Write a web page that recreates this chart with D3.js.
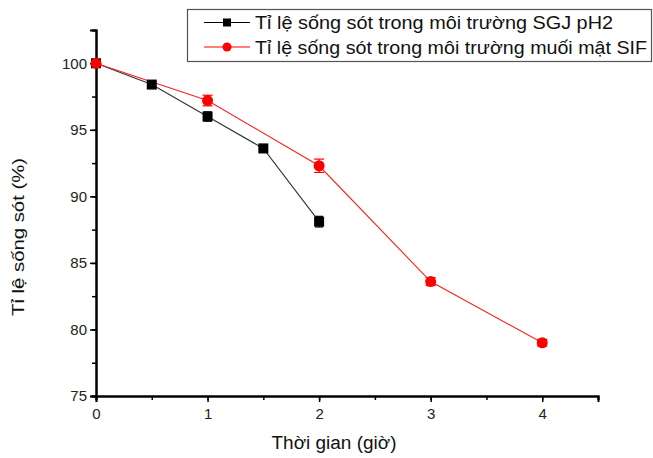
<!DOCTYPE html>
<html>
<head>
<meta charset="utf-8">
<script src="https://cdn.jsdelivr.net/npm/d3@7"></script>
<style>
  body { margin: 0; background: #fff; }
  text { font-family: "Liberation Sans", Arial, sans-serif; }
</style>
</head>
<body>
<div id="chart-area"></div>
<script>
// data
const hoursSGJ = [0, 0.5, 1, 1.5, 2];
const survivalSGJ = [100, 98.4, 96.0, 93.6, 88.1];
const errorSGJ = [0.2, 0.2, 0.35, 0.3, 0.4];

const hoursSIF = [0, 1, 2, 3, 4];
const survivalSIF = [100, 97.2, 92.3, 83.6, 79.0];
const errorSIF = [0.2, 0.4, 0.5, 0.3, 0.25];

const seriesNames = [
  "Tỉ lệ sống sót trong môi trường SGJ pH2",
  "Tỉ lệ sống sót trong môi trường muối mật SIF"
];
const xTicks = [0, 1, 2, 3, 4];
const yTicks = [75, 80, 85, 90, 95, 100];

const W = 653, H = 458;
const margin = { left: 96, right: 55, top: 30, bottom: 62 };
const width = W - margin.left - margin.right;
const height = H - margin.top - margin.bottom;

const svg = d3.select("#chart-area")
  .append("svg")
  .attr("width", W)
  .attr("height", H);

const g = svg.append("g")
  .attr("transform", `translate(${margin.left}, ${margin.top})`);

const x = d3.scaleLinear().domain([0, 4.5]).range([0, width]);
const y = d3.scaleLinear().domain([75, 102.5]).range([height, 0]);

// minor ticks
const xAxisMinor = g.append("g")
  .attr("transform", `translate(0, ${height})`)
  .call(d3.axisBottom(x).tickValues(d3.range(0, 4.51, 0.5)).tickSize(4).tickFormat(""));
const yAxisMinor = g.append("g")
  .call(d3.axisLeft(y).tickValues(d3.range(75, 102.6, 2.5)).tickSize(4).tickFormat(""));

// major axes
const xAxisGroup = g.append("g")
  .attr("transform", `translate(0, ${height})`)
  .call(d3.axisBottom(x).tickValues(xTicks).tickSize(6).tickPadding(6).tickFormat(d3.format("d")));
const yAxisGroup = g.append("g")
  .call(d3.axisLeft(y).tickValues(yTicks).tickSize(6).tickPadding(3));

[xAxisMinor, yAxisMinor, xAxisGroup, yAxisGroup].forEach(a => {
  a.select(".domain").attr("stroke", "#000").attr("stroke-width", 2);
  a.selectAll(".tick line").attr("stroke", "#000").attr("stroke-width", 1.5);
});
[xAxisGroup, yAxisGroup].forEach(a => {
  a.selectAll(".tick text")
    .attr("font-size", "15px")
    .attr("fill", "#222")
    .attr("font-family", "'Liberation Sans', Arial, sans-serif");
});

// axis titles
svg.append("text")
  .attr("x", 334)
  .attr("y", 449)
  .attr("text-anchor", "middle")
  .attr("font-size", "18px")
  .attr("fill", "#111")
  .attr("textLength", 125)
  .attr("lengthAdjust", "spacingAndGlyphs")
  .text("Thời gian (giờ)");

svg.append("text")
  .attr("transform", "rotate(-90)")
  .attr("x", -237)
  .attr("y", 24)
  .attr("text-anchor", "middle")
  .attr("font-size", "16px")
  .attr("fill", "#111")
  .attr("textLength", 158)
  .attr("lengthAdjust", "spacingAndGlyphs")
  .text("Tỉ lệ sống sót (%)");

// series
const sgj = hoursSGJ.map((h, i) => ({ x: h, y: survivalSGJ[i], e: errorSGJ[i] }));
const sif = hoursSIF.map((h, i) => ({ x: h, y: survivalSIF[i], e: errorSIF[i] }));

const line = d3.line().x(d => x(d.x)).y(d => y(d.y));

function drawErrors(data, color, cap) {
  const eg = g.append("g").attr("stroke", color).attr("stroke-width", 1.2);
  eg.selectAll(".v").data(data).enter().append("line")
    .attr("x1", d => x(d.x)).attr("x2", d => x(d.x))
    .attr("y1", d => y(d.y - d.e)).attr("y2", d => y(d.y + d.e));
  eg.selectAll(".t").data(data).enter().append("line")
    .attr("x1", d => x(d.x) - cap).attr("x2", d => x(d.x) + cap)
    .attr("y1", d => y(d.y + d.e)).attr("y2", d => y(d.y + d.e));
  eg.selectAll(".b").data(data).enter().append("line")
    .attr("x1", d => x(d.x) - cap).attr("x2", d => x(d.x) + cap)
    .attr("y1", d => y(d.y - d.e)).attr("y2", d => y(d.y - d.e));
}

g.append("path").datum(sgj)
  .attr("d", line).attr("fill", "none")
  .attr("stroke", "#333").attr("stroke-width", 1.1);
g.append("path").datum(sif)
  .attr("d", line).attr("fill", "none")
  .attr("stroke", "#ff2020").attr("stroke-width", 1.1);

drawErrors(sgj, "#000", 4);
drawErrors(sif, "#ff0000", 5);

g.selectAll(".sq").data(sgj).enter().append("rect")
  .attr("x", d => x(d.x) - 5).attr("y", d => y(d.y) - 5)
  .attr("width", 10).attr("height", 10)
  .attr("fill", "#000");
g.selectAll(".ci").data(sif).enter().append("circle")
  .attr("cx", d => x(d.x)).attr("cy", d => y(d.y))
  .attr("r", 5.5)
  .attr("fill", "#ff0000");

// legend
const lg = svg.append("g");
lg.append("rect")
  .attr("x", 187.5).attr("y", 9.5)
  .attr("width", 464).attr("height", 52)
  .attr("fill", "#fff").attr("stroke", "#555").attr("stroke-width", 1.2);

const legendRows = [
  { name: seriesNames[0], color: "#000", shape: "square", cy: 22.5, len: 358 },
  { name: seriesNames[1], color: "#ff0000", shape: "circle", cy: 47, len: 392 }
];
legendRows.forEach(r => {
  lg.append("line")
    .attr("x1", 204).attr("x2", 250)
    .attr("y1", r.cy).attr("y2", r.cy)
    .attr("stroke", r.color).attr("stroke-width", 1.1);
  if (r.shape === "square") {
    lg.append("rect").attr("x", 223).attr("y", r.cy - 4)
      .attr("width", 8).attr("height", 8).attr("fill", r.color);
  } else {
    lg.append("circle").attr("cx", 227).attr("cy", r.cy)
      .attr("r", 4.5).attr("fill", r.color);
  }
  lg.append("text")
    .attr("x", 255).attr("y", r.cy + 6.5)
    .attr("font-size", "18px")
    .attr("fill", "#111")
    .attr("textLength", r.len)
    .attr("lengthAdjust", "spacingAndGlyphs")
    .text(r.name);
});
</script>
</body>
</html>
